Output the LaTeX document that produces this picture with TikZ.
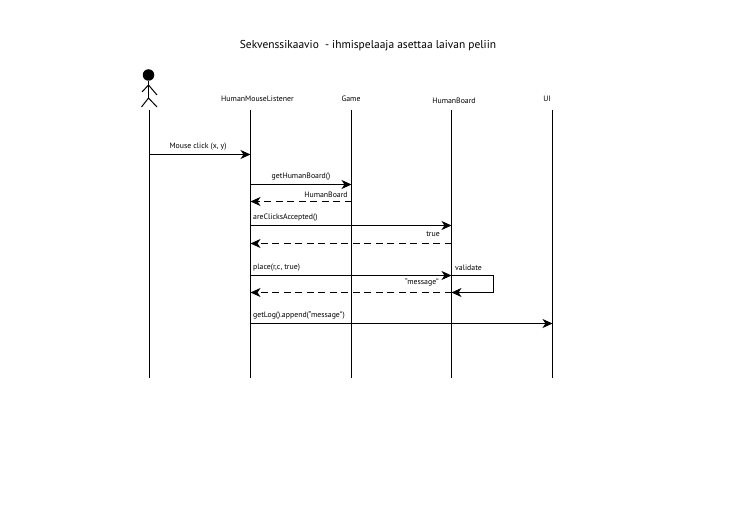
\documentclass[tikz,border=0pt]{standalone}
\usepackage{fontspec}
\setmainfont{PT Sans}
\usetikzlibrary{arrows.meta}
\tikzset{
  lbl/.style={inner sep=0pt,font=\fontsize{7.8}{9}\selectfont},
  lblleft/.style={lbl,anchor=west},
  lifeline/.style={line width=1pt},
  msg/.style={line width=1pt,-{Stealth[length=10pt,width=9pt,inset=3pt]}},
  reply/.style={msg,dash pattern=on 7pt off 4.5pt},
}
\begin{document}
\begin{tikzpicture}[x=1pt,y=-1pt]
  \useasboundingbox (0,0) rectangle (729,516);
  \node[inner sep=0pt,font=\fontsize{11.45}{14}\selectfont] (title) at (368,45.5) {Sekvenssikaavio\ \ - ihmispelaaja asettaa laivan peliin};
  % lifeline heads
  \node[lbl] (listener) at (257.5,98.5) {HumanMouseListener};
  \node[lbl] (game) at (351,98.5) {Game};
  \node[lbl] (board) at (454,100.5) {HumanBoard};
  \node[lbl] (ui) at (547,98.5) {UI};
  % actor
  \node[circle,fill=black,inner sep=0pt,minimum size=11.5pt] (head) at (148.5,75) {};
  \coordinate (hip) at (148.5,98);
  \coordinate (neck) at (148.5,85);
  \coordinate (handl) at (142,92);
  \coordinate (handr) at (157,95);
  \coordinate (footl) at (141.5,107);
  \coordinate (footr) at (157,107);
  \draw[line width=1pt] (head) -- (hip);
  \draw[line width=1pt] (handl) -- (neck) -- (handr);
  \draw[line width=1pt] (footl) -- (hip) -- (footr);
  % lifelines
  \coordinate (a0) at (149.5,110);
  \coordinate (a1) at (149.5,378);
  \coordinate (l0) at (250.5,110);
  \coordinate (l1) at (250.5,378);
  \coordinate (g0) at (351.5,110);
  \coordinate (g1) at (351.5,378);
  \coordinate (b0) at (451.5,110);
  \coordinate (b1) at (451.5,378);
  \coordinate (u0) at (552.5,110);
  \coordinate (u1) at (552.5,378);
  \draw[lifeline] (a0) -- (a1);
  \draw[lifeline] (l0) -- (l1);
  \draw[lifeline] (g0) -- (g1);
  \draw[lifeline] (b0) -- (b1);
  \draw[lifeline] (u0) -- (u1);
  % messages
  \coordinate (m1a) at (149.5,154.5);
  \coordinate (m1b) at (250.5,154.5);
  \coordinate (m2a) at (250.5,184.5);
  \coordinate (m2b) at (351.5,184.5);
  \coordinate (m3a) at (351.5,201.5);
  \coordinate (m3b) at (250.5,201.5);
  \coordinate (m4a) at (250.5,225.5);
  \coordinate (m4b) at (451.5,225.5);
  \coordinate (m5a) at (451.5,243.5);
  \coordinate (m5b) at (250.5,243.5);
  \coordinate (m6a) at (250.5,275.5);
  \coordinate (m6b) at (451.5,275.5);
  \coordinate (m7a) at (493.5,275.5);
  \coordinate (m7b) at (493.5,292.5);
  \coordinate (m7c) at (451.5,292.5);
  \coordinate (m8b) at (250.5,292.5);
  \coordinate (m9a) at (250.5,323.5);
  \coordinate (m9b) at (552.5,323.5);
  \draw[msg] (m1a) -- (m1b);
  \draw[msg] (m2a) -- (m2b);
  \draw[reply] (m3a) -- (m3b);
  \draw[msg] (m4a) -- (m4b);
  \draw[reply] (m5a) -- (m5b);
  \draw[msg] (m6a) -- (m6b);
  \draw[msg] (m6b) -- (m7a) -- (m7b) -- (m7c);
  \draw[reply] (m7c) -- (m8b);
  \draw[msg] (m9a) -- (m9b);
  % labels
  \node[lbl] (click) at (198,146.5) {Mouse click (x, y)};
  \node[lbl] (gethb) at (301,176.5) {getHumanBoard()};
  \node[lbl] (hb) at (326,194.5) {HumanBoard};
  \node[lblleft] (accepted) at (253,217.5) {areClicksAccepted()};
  \node[lbl] (true) at (433,234.5) {true};
  \node[lblleft] (place) at (253,267.5) {place(r,c, true)};
  \node[lblleft] (validate) at (455,267.5) {validate};
  \node[lbl] (message) at (422,282.5) {“message”};
  \node[lblleft] (getlog) at (253,315.5) {getLog().append(“message”)};
\end{tikzpicture}
\end{document}
